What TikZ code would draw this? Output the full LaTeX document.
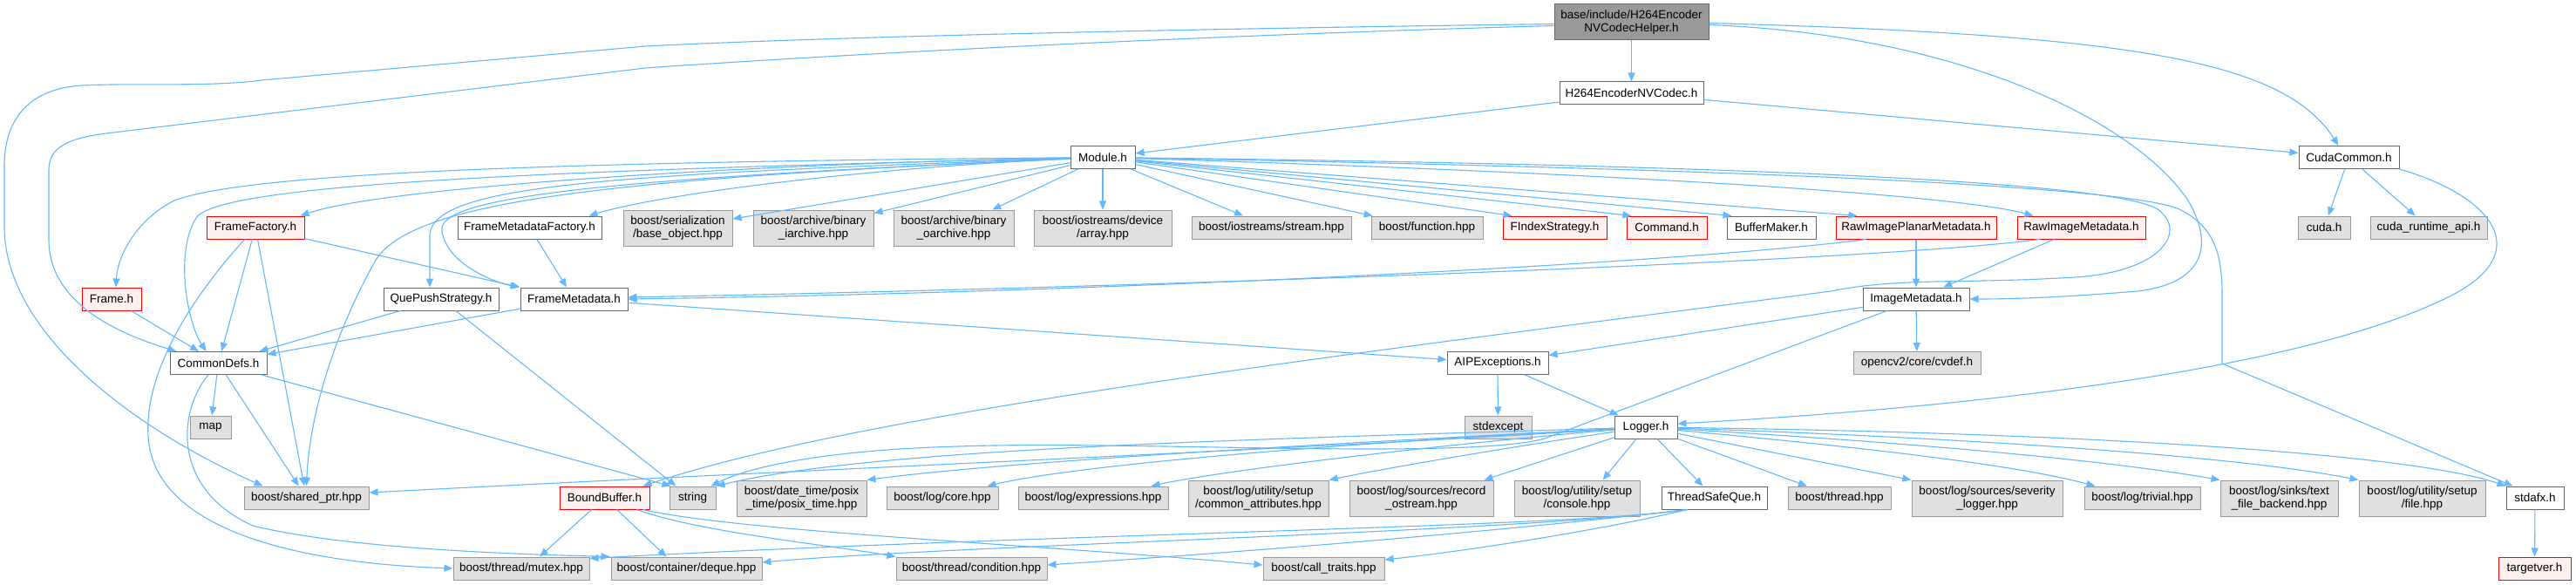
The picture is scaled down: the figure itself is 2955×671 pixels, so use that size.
\documentclass[tikz,border=0pt]{standalone}
\usepackage{fontspec}
\setmainfont{Liberation Sans}
\usetikzlibrary{arrows.meta,calc}
\definecolor{edgecol}{HTML}{63B8FF}
\definecolor{grayfill}{HTML}{E0E0E0}
\definecolor{graydraw}{HTML}{999999}
\definecolor{wdraw}{HTML}{666666}
\definecolor{redfill}{HTML}{FFF0F0}
\definecolor{reddraw}{HTML}{FF0000}
\definecolor{topfill}{HTML}{999999}
\newcommand\nodefont{\fontsize{13.5}{15}\selectfont}
\tikzset{
  box/.style={draw, line width=1pt, inner sep=0pt, minimum height=26pt, align=center, font=\nodefont, text=black},
  gbox/.style={box, fill=grayfill, draw=graydraw},
  wbox/.style={box, fill=white, draw=wdraw},
  rbox/.style={box, fill=redfill, draw=reddraw},
  topbox/.style={box, fill=topfill, draw=wdraw},
  tall/.style={minimum height=41pt},
  dep/.style={draw=edgecol, line width=1.1pt, -{Triangle[length=10pt,width=8pt]}},
}
\begin{document}
\begin{tikzpicture}[x=1pt,y=-1pt]
\fill[white] (0,0) rectangle (2955,671);
\useasboundingbox (0,0) rectangle (2955,671);

% ---------- nodes ----------
\node[topbox,tall,minimum width=177pt] (top) at (1871.5,25.5) {base/include/H264Encoder\\NVCodecHelper.h};
\node[wbox,minimum width=165pt] (enc) at (1871.5,107) {H264EncoderNVCodec.h};
\node[wbox,minimum width=74pt] (module) at (1265,180.5) {Module.h};
\node[wbox,minimum width=115pt] (cuda) at (2694.5,180.5) {CudaCommon.h};

\node[rbox,minimum width=112pt] (ff) at (293,261) {FrameFactory.h};
\node[wbox,minimum width=165pt] (fmf) at (607.5,261) {FrameMetadataFactory.h};
\node[gbox,tall,minimum width=125pt] (ser) at (777.5,261.5) {boost/serialization\\/base\_object.hpp};
\node[gbox,tall,minimum width=138pt] (iarch) at (933,261.5) {boost/archive/binary\\\_iarchive.hpp};
\node[gbox,tall,minimum width=138pt] (oarch) at (1094,261.5) {boost/archive/binary\\\_oarchive.hpp};
\node[gbox,tall,minimum width=158pt] (devarr) at (1265,261.5) {boost/iostreams/device\\/array.hpp};
\node[gbox,minimum width=183pt] (stream) at (1458.5,261) {boost/iostreams/stream.hpp};
\node[gbox,minimum width=128pt] (func) at (1637,261) {boost/function.hpp};
\node[rbox,minimum width=119pt] (fidx) at (1783.5,261) {FIndexStrategy.h};
\node[rbox,minimum width=92pt] (cmd) at (1912,261) {Command.h};
\node[wbox,minimum width=102pt] (bm) at (2032,261) {BufferMaker.h};
\node[rbox,minimum width=184pt] (rip) at (2198,261) {RawImagePlanarMetadata.h};
\node[rbox,minimum width=147pt] (rim) at (2387.5,261) {RawImageMetadata.h};
\node[gbox,minimum width=60pt] (cudah) at (2666,261) {cuda.h};
\node[gbox,minimum width=134pt] (cudart) at (2786,261) {cuda\_runtime\_api.h};

\node[rbox,minimum width=68pt] (frame) at (128,343) {Frame.h};
\node[wbox,minimum width=132pt] (qps) at (506,343) {QuePushStrategy.h};
\node[wbox,minimum width=123pt] (fm) at (658.5,343) {FrameMetadata.h};
\node[wbox,minimum width=122pt] (im) at (2198,343) {ImageMetadata.h};

\node[wbox,minimum width=111pt] (cd) at (250.5,416.5) {CommonDefs.h};
\node[wbox,minimum width=116pt] (aip) at (1718,416.5) {AIPExceptions.h};
\node[gbox,minimum width=146pt] (cvdef) at (2199,416.5) {opencv2/core/cvdef.h};

\node[gbox,minimum width=47pt] (map) at (241.5,490) {map};
\node[gbox,minimum width=77pt] (stdexc) at (1718.5,490) {stdexcept};
\node[wbox,minimum width=72pt] (logger) at (1888,490) {Logger.h};

\node[gbox,minimum width=143pt] (sp) at (351.5,571) {boost/shared\_ptr.hpp};
\node[rbox,minimum width=103pt] (bb) at (693.5,571) {BoundBuffer.h};
\node[gbox,minimum width=53pt] (str) at (794.5,571) {string};
\node[gbox,tall,minimum width=149pt] (dt) at (919.5,571.5) {boost/date\_time/posix\\\_time/posix\_time.hpp};
\node[gbox,minimum width=128pt] (core) at (1081,571) {boost/log/core.hpp};
\node[gbox,minimum width=172pt] (expr) at (1254,571) {boost/log/expressions.hpp};
\node[gbox,tall,minimum width=161pt] (common) at (1443.5,571.5) {boost/log/utility/setup\\/common\_attributes.hpp};
\node[gbox,tall,minimum width=165pt] (rec) at (1630.5,571.5) {boost/log/sources/record\\\_ostream.hpp};
\node[gbox,tall,minimum width=144pt] (cons) at (1809,571.5) {boost/log/utility/setup\\/console.hpp};
\node[wbox,minimum width=121pt] (tsq) at (1966.5,571) {ThreadSafeQue.h};
\node[gbox,minimum width=118pt] (thr) at (2110,571) {boost/thread.hpp};
\node[gbox,tall,minimum width=173pt] (sev) at (2279.5,571.5) {boost/log/sources/severity\\\_logger.hpp};
\node[gbox,minimum width=133pt] (triv) at (2457.5,571) {boost/log/trivial.hpp};
\node[gbox,tall,minimum width=135pt] (tfb) at (2614.5,571.5) {boost/log/sinks/text\\\_file\_backend.hpp};
\node[gbox,tall,minimum width=145pt] (file) at (2778.5,571.5) {boost/log/utility/setup\\/file.hpp};
\node[wbox,minimum width=66pt] (stdafx) at (2908,571) {stdafx.h};

\node[gbox,minimum width=156pt] (mutex) at (598,652) {boost/thread/mutex.hpp};
\node[gbox,minimum width=173pt] (deque) at (787.5,652) {boost/container/deque.hpp};
\node[gbox,minimum width=173pt] (cond) at (1114.5,652) {boost/thread/condition.hpp};
\node[gbox,minimum width=139pt] (ct) at (1518.5,652) {boost/call\_traits.hpp};
\node[rbox,minimum width=83pt] (tv) at (2907.5,652) {targetver.h};

% ---------- edges from the top file ----------
\draw[dep] (top) -- (enc);
\draw[dep] ($(top.west)+(0,4)$) .. controls (1400,40) and (1000,60) .. (740,78) -- (130,152) .. controls (75,158) and (56,170) .. (56,195) -- (56,275) .. controls (56,335) and (110,375) .. ($(cd.north west)+(8,0)$);
\draw[dep] ($(top.west)+(0,2)$) .. controls (1450,32) and (1000,40) .. (740,53) -- (300,92) .. controls (240,100) and (150,95) .. (94,98) .. controls (30,102) and (5,140) .. (5,190) -- (5,260) .. controls (5,380) and (150,490) .. ($(sp.north west)+(22,0)$);
\draw[dep] ($(top.east)+(0,1)$) .. controls (2450,40) and (2620,70) .. ($(cuda.north)+(-12,0)$);
\draw[dep] ($(top.east)+(0,3)$) .. controls (2250,40) and (2450,140) .. (2510,230) .. controls (2545,290) and (2520,330) .. (2440,335) .. controls (2350,342) and (2300,343) .. (im.east);

\draw[dep] (enc) -- (module);
\draw[dep] (enc) -- (cuda);
\draw[dep] (cuda) -- (cudah);
\draw[dep] (cuda) -- (cudart);
\draw[dep] (cuda.south east) .. controls (2860,225) and (2910,290) .. (2810,340) .. controls (2650,420) and (2300,465) .. ($(logger.east)+(0,-4)$);

% ---------- Module.h fan ----------
\draw[dep] (module) .. controls (900,187) and (450,212) .. ($(ff.north east)+(-5,0)$);
\draw[dep] (module) .. controls (1000,192) and (760,222) .. ($(fmf.north east)+(-15,0)$);
\draw[dep] (module) .. controls (600,186) and (280,200) .. (200,230) .. controls (160,250) and (135,290) .. ($(frame.north)+(5,0)$);
\draw[dep] (module) .. controls (650,195) and (250,210) .. (225,250) .. controls (200,290) and (215,370) .. ($(cd.north)+(-14,0)$);
\draw[dep] (module) .. controls (700,200) and (495,212) .. (493,270) -- ($(qps.north)+(-13,0)$);
\draw[dep] (module) .. controls (700,205) and (500,225) .. (507,265) .. controls (512,300) and (560,322) .. ($(fm.north west)+(-1,0)$);
\draw[dep] (module) .. controls (700,205) and (470,230) .. (430,300) .. controls (380,390) and (355,480) .. (sp.north);
\draw[dep] (module) -- (ser);
\draw[dep] (module) -- (iarch);
\draw[dep] (module) -- (oarch);
\draw[dep] (module) -- (devarr);
\draw[dep] (module) -- (stream);
\draw[dep] (module) -- (func);
\draw[dep] (module) -- ($(fidx.north west)+(11,0)$);
\draw[dep] (module) -- ($(cmd.north west)+(6,0)$);
\draw[dep] (module) -- ($(bm.north west)+(6,0)$);
\draw[dep] (module) -- ($(rip.north west)+(25,0)$);
\draw[dep] (module) .. controls (1900,200) and (2250,225) .. ($(rim.north west)+(19,0)$);
\draw[dep] (module) .. controls (1900,188) and (2420,205) .. (2475,240) .. controls (2510,265) and (2480,312) .. (2380,318) .. controls (2250,326) and (2180,318) .. (2100,334) .. controls (1600,400) and (1000,470) .. ($(bb.north east)+(-8,0)$);
\draw[dep] (module) .. controls (1900,192) and (2430,210) .. (2500,240) .. controls (2545,262) and (2549,300) .. (2549,340) -- (2549,417) -- ($(stdafx.north west)+(8,0)$);

% ---------- middle layer ----------
\draw[dep] (ff) -- (fm.north west);
\draw[dep] (ff) -- (cd);
\draw[dep] (ff) -- (sp);
\draw[dep] (ff) .. controls (230,330) and (165,420) .. (170,500) .. controls (175,600) and (320,645) .. (mutex.west);
\draw[dep] (fmf) -- (fm);
\draw[dep] (frame) -- (cd);
\draw[dep] (qps) -- (cd);
\draw[dep] (qps) -- ($(str.north west)+(8,0)$);
\draw[dep] (fm) -- (cd);
\draw[dep] (fm) -- (aip);
\draw[dep] ($(rip.south west)+(35,0)$) .. controls (1950,300) and (1300,335) .. (fm.east);
\draw[dep] ($(rim.south west)+(26,0)$) .. controls (2150,300) and (1300,330) .. ($(fm.east)+(0,-2)$);
\draw[dep] (rip) -- (im);
\draw[dep] (rim) -- (im);
\draw[dep] (im) -- (aip);
\draw[dep] (im) -- (cvdef);
\draw[dep] ($(im.south west)+(28,0)$) -- (1772,503) .. controls (1680,528) and (1300,505) .. (1100,512) .. controls (950,516) and (860,535) .. ($(str.north east)+(-6,0)$);
\draw[dep] (aip) -- (stdexc);
\draw[dep] (aip) -- (logger);

% ---------- CommonDefs ----------
\draw[dep] (cd) -- (map);
\draw[dep] (cd) -- (sp);
\draw[dep] (cd) -- ($(str.north west)+(2,0)$);
\draw[dep] (cd) .. controls (205,470) and (195,560) .. (290,603) .. controls (400,630) and (600,636) .. ($(deque.north west)+(-1,0)$);

% ---------- Logger fan ----------
\draw[dep] (logger) .. controls (1500,515) and (900,540) .. ($(sp.east)+(0,-6)$);
\draw[dep] (logger) .. controls (1400,505) and (1000,515) .. (str.north east);
\draw[dep] (logger) .. controls (1500,510) and (1150,530) .. (dt.north east);
\draw[dep] (logger) .. controls (1600,505) and (1250,530) .. ($(core.north east)+(-13,0)$);
\draw[dep] (logger) .. controls (1650,510) and (1400,540) .. ($(expr.north east)+(-20,0)$);
\draw[dep] (logger) .. controls (1750,510) and (1600,535) .. (common.north east);
\draw[dep] (logger) -- ($(rec.north east)+(-11,0)$);
\draw[dep] (logger) -- ($(cons.north east)+(-43,0)$);
\draw[dep] (logger) -- (tsq);
\draw[dep] (logger) -- (thr);
\draw[dep] (logger) -- (sev.north west);
\draw[dep] (logger) .. controls (2100,510) and (2300,530) .. ($(triv.north west)+(13,0)$);
\draw[dep] (logger) .. controls (2150,505) and (2400,525) .. (tfb.north west);
\draw[dep] (logger) .. controls (2200,500) and (2550,520) .. (file.north west);
\draw[dep] (logger) .. controls (2300,495) and (2750,515) .. (stdafx.north west);
\draw[dep] (stdafx) -- (tv);

% ---------- bottom layer ----------
\draw[dep] ($(tsq.south west)+(30,0)$) .. controls (1800,605) and (1200,612) .. ($(mutex.north east)+(0,2)$);
\draw[dep] ($(tsq.south west)+(30,0)$) .. controls (1750,610) and (1100,625) .. ($(deque.east)+(0,-7)$);
\draw[dep] ($(tsq.south west)+(30,0)$) .. controls (1700,612) and (1400,635) .. ($(cond.east)+(0,-4)$);
\draw[dep] ($(tsq.south west)+(30,0)$) .. controls (1850,605) and (1700,630) .. ($(ct.east)+(0,-10)$);
\draw[dep] (bb) -- ($(mutex.north)+(21,0)$);
\draw[dep] (bb) -- ($(deque.north west)+(64,0)$);
\draw[dep] ($(bb.south east)+(-15,0)$) .. controls (800,610) and (950,625) .. (cond.north west);
\draw[dep] ($(bb.south east)+(-8,0)$) .. controls (850,610) and (1200,625) .. ($(ct.west)+(0,-4)$);
\end{tikzpicture}
\end{document}
